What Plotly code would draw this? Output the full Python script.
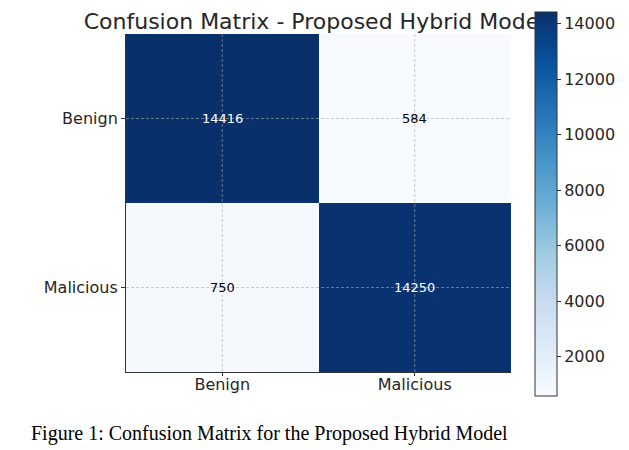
import plotly.graph_objects as go

classes = ["Benign", "Malicious"]
matrix = [[14416, 584],
          [750, 14250]]
cbar_ticks = [2000, 4000, 6000, 8000, 10000, 12000, 14000]
title_text = "Confusion Matrix - Proposed Hybrid Model"
caption_text = "Figure 1: Confusion Matrix for the Proposed Hybrid Model"

blues = ['rgb(247,251,255)', 'rgb(222,235,247)', 'rgb(198,219,239)', 'rgb(158,202,225)',
         'rgb(107,174,214)', 'rgb(66,146,198)', 'rgb(33,113,181)', 'rgb(8,81,156)', 'rgb(8,48,107)']
cscale = [[i / (len(blues) - 1), c] for i, c in enumerate(blues)]

W, H = 629, 450
OFF = 8  # page body margin offset applied by the browser

# paper area (figure pixels)
L, R, T, B = 118, 8, 4, 62
pw = W - L - R
ph = H - T - B


def fx(p):
    """screen x pixel -> paper fraction"""
    return (p - OFF - L) / pw


def fy(p):
    """screen y pixel -> paper fraction"""
    return (H - B - (p - OFF)) / ph


# axes area in screen pixels
ax_l, ax_r, ax_t, ax_b = 126, 511, 34, 372
xdom = [fx(ax_l), fx(ax_r)]
ydom = [fy(ax_b), fy(ax_t)]

text_colors = [["white" if v > 7500 else "black" for v in row] for row in matrix]
fnt = "DejaVu Sans"

fig = go.Figure()
fig.add_trace(go.Heatmap(
    z=matrix, x=classes, y=classes,
    colorscale=cscale,
    zmin=min(min(r) for r in matrix), zmax=max(max(r) for r in matrix),
    showscale=True,
    colorbar=dict(
        thickness=22, thicknessmode="pixels",
        len=384, lenmode="pixels",
        x=fx(535), xanchor="left", xpad=0,
        y=fy(204), yanchor="middle", ypad=0,
        outlinewidth=1, outlinecolor="#333",
        tickvals=cbar_ticks, tickformat="d",
        ticks="outside", ticklen=4, tickcolor="#333",
        tickfont=dict(family=fnt, size=16, color="#262626"),
    ),
    hoverinfo="skip",
))

for i, row in enumerate(matrix):
    for j, v in enumerate(row):
        fig.add_annotation(x=classes[j], y=classes[i], text=str(v), showarrow=False,
                           font=dict(family=fnt, size=13, color=text_colors[i][j]))

grid_line = dict(color="rgba(170,170,170,0.75)", width=0.8, dash="3px,2px")
for c in classes:
    fig.add_shape(type="line", xref="x", yref="y domain", x0=c, x1=c, y0=0, y1=1,
                  line=grid_line, layer="above")
    fig.add_shape(type="line", xref="x domain", yref="y", x0=0, x1=1, y0=c, y1=c,
                  line=grid_line, layer="above")

# title as a shape label so that the colorbar is drawn over its end (as in the reference)
fig.add_shape(type="rect", xref="paper", yref="paper",
              x0=fx(ax_l - 4), x1=fx(ax_r - 4), y0=fy(29), y1=fy(9),
              line=dict(width=0), fillcolor="rgba(0,0,0,0)", layer="above",
              label=dict(text=title_text, textposition="middle center",
                         font=dict(family=fnt, size=22, color="#262626")))

fig.add_annotation(xref="paper", yref="paper", x=fx(29), y=fy(433),
                   xanchor="left", yanchor="middle", showarrow=False,
                   text=caption_text,
                   font=dict(family="Liberation Serif", size=20, color="black"))

fig.update_layout(
    width=W, height=H,
    margin=dict(l=L, r=R, t=T, b=B, pad=0),
    paper_bgcolor="white", plot_bgcolor="white",
    xaxis=dict(domain=xdom, showgrid=False, zeroline=False, showline=True,
               linecolor="#333", linewidth=1,
               ticks="outside", ticklen=3, tickcolor="#333", ticklabelstandoff=-5,
               tickfont=dict(family=fnt, size=16, color="#262626"),
               fixedrange=True),
    yaxis=dict(domain=ydom, showgrid=False, zeroline=False, showline=True,
               linecolor="#333", linewidth=1,
               ticks="outside", ticklen=4, tickcolor="#333", autorange="reversed",
               tickfont=dict(family=fnt, size=16, color="#262626"),
               fixedrange=True),
)

fig.write_html("out.html")
